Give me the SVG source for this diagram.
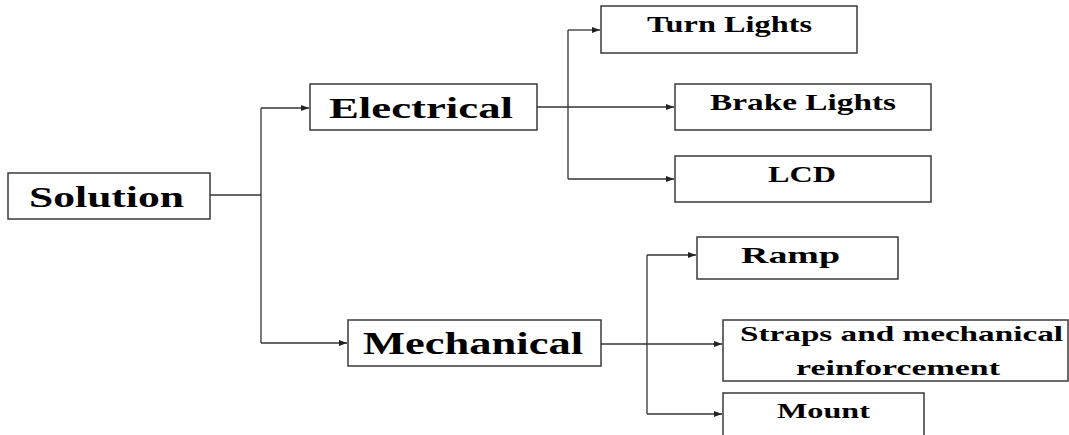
<svg xmlns="http://www.w3.org/2000/svg" width="1069" height="435" viewBox="0 0 1069 435">
<style>
.box{fill:#fff;stroke:#3a3a3a;stroke-width:1.5}
.lbl{font-family:"Liberation Serif","Times New Roman",serif;font-weight:bold;fill:#000}
.con{fill:none;stroke:#333;stroke-width:1.3}
</style>
<defs>
<marker id="ah" markerUnits="userSpaceOnUse" markerWidth="9" markerHeight="7" refX="8" refY="3" orient="auto">
<path d="M0,0 L8,3 L0,6 z" fill="#222"/>
</marker>
</defs>
<rect width="1069" height="435" fill="#fff"/>
<g id="connectors">
<path class="con" d="M210,195 H261"/>
<path class="con" d="M261,108 V343"/>
<path class="con" d="M261,108 H309" marker-end="url(#ah)"/>
<path class="con" d="M261,343 H347" marker-end="url(#ah)"/>
<path class="con" d="M513,107 H674" marker-end="url(#ah)"/>
<path class="con" d="M568,30 V179"/>
<path class="con" d="M568,30 H600" marker-end="url(#ah)"/>
<path class="con" d="M568,179 H674" marker-end="url(#ah)"/>
<path class="con" d="M593,344 H722" marker-end="url(#ah)"/>
<path class="con" d="M647,255 V414"/>
<path class="con" d="M647,255 H696" marker-end="url(#ah)"/>
<path class="con" d="M647,414 H722" marker-end="url(#ah)"/>
</g>
<g id="solution">
<rect class="box" x="8" y="173" width="202" height="46"/>
<text class="lbl" x="29" y="207" font-size="30" textLength="155" lengthAdjust="spacingAndGlyphs">Solution</text>
</g>
<g id="electrical">
<rect class="box" x="310" y="84" width="227" height="46"/>
<text class="lbl" x="329" y="118" font-size="30" textLength="184" lengthAdjust="spacingAndGlyphs">Electrical</text>
</g>
<g id="mechanical">
<rect class="box" x="348" y="320" width="253" height="46"/>
<text class="lbl" x="363" y="354" font-size="32" textLength="220" lengthAdjust="spacingAndGlyphs">Mechanical</text>
</g>
<g id="turn-lights">
<rect class="box" x="601" y="6" width="256" height="47"/>
<text class="lbl" x="647" y="32" font-size="23" textLength="165" lengthAdjust="spacingAndGlyphs">Turn Lights</text>
</g>
<g id="brake-lights">
<rect class="box" x="675" y="84" width="256" height="46"/>
<text class="lbl" x="710" y="110" font-size="23" textLength="186" lengthAdjust="spacingAndGlyphs">Brake Lights</text>
</g>
<g id="lcd">
<rect class="box" x="675" y="156" width="256" height="46"/>
<text class="lbl" x="768" y="182" font-size="24" textLength="68" lengthAdjust="spacingAndGlyphs">LCD</text>
</g>
<g id="ramp">
<rect class="box" x="697" y="237" width="201" height="42"/>
<text class="lbl" x="741" y="263" font-size="23" textLength="99" lengthAdjust="spacingAndGlyphs">Ramp</text>
</g>
<g id="straps">
<rect class="box" x="723" y="320" width="345" height="61"/>
<text class="lbl" x="740" y="341" font-size="21" textLength="323" lengthAdjust="spacingAndGlyphs">Straps and mechanical</text>
<text class="lbl" x="796" y="375" font-size="21" textLength="204" lengthAdjust="spacingAndGlyphs">reinforcement</text>
</g>
<g id="mount">
<rect class="box" x="723" y="393" width="201" height="50"/>
<text class="lbl" x="777" y="418" font-size="21" textLength="93" lengthAdjust="spacingAndGlyphs">Mount</text>
</g>
</svg>
